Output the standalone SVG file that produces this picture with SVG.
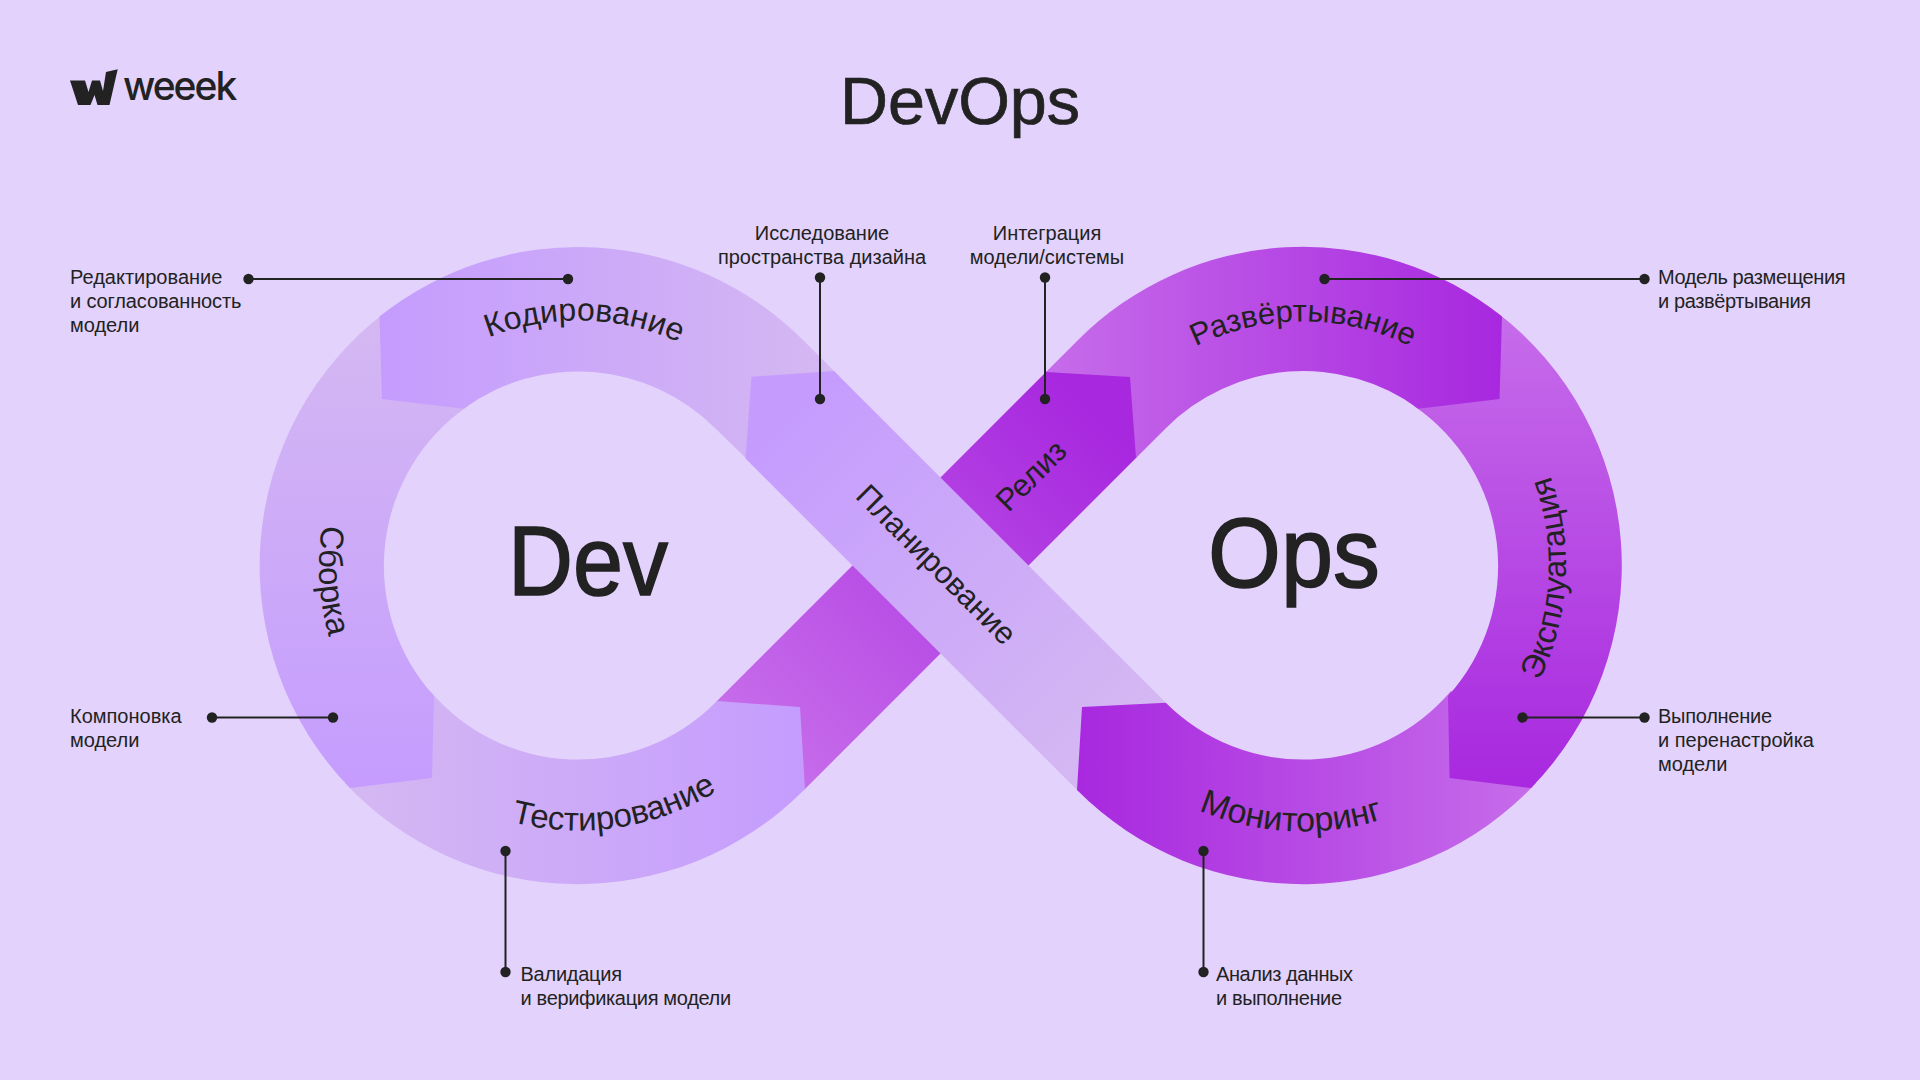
<svg xmlns="http://www.w3.org/2000/svg" width="1920" height="1080" viewBox="0 0 1920 1080">
<style>
text{font-family:"Liberation Sans",Arial,sans-serif;fill:#222}
.lab{font-size:20px}
.mid{text-anchor:middle}
.seg{font-size:32px}
.big{font-size:99px;stroke:#222;stroke-width:1.6px}
.con{stroke:#222;stroke-width:2;fill:none}
.dot{fill:#222}
</style>
<defs>
<linearGradient id="gKod" gradientUnits="userSpaceOnUse" x1="380" y1="0" x2="834" y2="0"><stop offset="0" stop-color="#C59CFE"/><stop offset="1" stop-color="#D4B8F2"/></linearGradient>
<linearGradient id="gSbo" gradientUnits="userSpaceOnUse" x1="0" y1="788" x2="0" y2="317"><stop offset="0" stop-color="#C59CFE"/><stop offset="1" stop-color="#D4B8F2"/></linearGradient>
<linearGradient id="gTes" gradientUnits="userSpaceOnUse" x1="805" y1="0" x2="350" y2="0"><stop offset="0" stop-color="#C59CFE"/><stop offset="1" stop-color="#D4B8F2"/></linearGradient>
<linearGradient id="gPla" gradientUnits="userSpaceOnUse" x1="790" y1="415" x2="1122" y2="747"><stop offset="0" stop-color="#C59CFE"/><stop offset="1" stop-color="#D4B8F2"/></linearGradient>
<linearGradient id="gMon" gradientUnits="userSpaceOnUse" x1="1077" y1="0" x2="1532" y2="0"><stop offset="0" stop-color="#A828DF"/><stop offset="1" stop-color="#C66CEA"/></linearGradient>
<linearGradient id="gExp" gradientUnits="userSpaceOnUse" x1="0" y1="788" x2="0" y2="317"><stop offset="0" stop-color="#A828DF"/><stop offset="1" stop-color="#C66CEA"/></linearGradient>
<linearGradient id="gRaz" gradientUnits="userSpaceOnUse" x1="1500" y1="0" x2="1046" y2="0"><stop offset="0" stop-color="#A828DF"/><stop offset="1" stop-color="#C66CEA"/></linearGradient>
<linearGradient id="gRel" gradientUnits="userSpaceOnUse" x1="1090" y1="415" x2="760" y2="747"><stop offset="0" stop-color="#A828DF"/><stop offset="1" stop-color="#C66CEA"/></linearGradient>
<path id="aKod" d="M369.1 437.5A245 245 0 0 1 793.3 448.6"/>
<path id="aRaz" d="M1091.7 443.5A244 244 0 0 1 1514.3 443.5"/>
<path id="aSbo" d="M399.7 377.6A259 259 0 0 0 424 773.7"/>
<path id="aTes" d="M385.8 747.9A265 265 0 0 0 815.2 683.7"/>
<path id="aMon" d="M1078 707.3A266 266 0 0 0 1513.2 728.5"/>
<path id="aExp" d="M1442.4 788.5A263 263 0 0 0 1464.9 358.3"/>
</defs>
<rect width="1920" height="1080" fill="#E3D2FC"/>
<g id="band-release"><polygon points="1047,371 1131,376 1137,457 804,790 716,702" fill="url(#gRel)"/></g>
<g id="band-testing"><path d="M717 701L800 707L805 789L803.2 790.7A318.5 318.5 0 0 1 345 783L430 691A194 194 0 0 0 715.2 702.7Z" fill="url(#gTes)"/></g>
<g id="band-build"><path d="M350 788A318.5 318.5 0 0 1 385 312.5L468 406A194 194 0 0 0 434 696L432 778Z" fill="url(#gSbo)"/></g>
<g id="band-coding"><path d="M379.5 316.5A318.5 318.5 0 0 1 803.2 340.3L839 376L751 463L715.2 428.3A194 194 0 0 0 463.7 408.7L382 399Z" fill="url(#gKod)"/></g>
<g id="band-planning"><path d="M834 371L751.4 376.7L745.5 458.5L1077.8 790.7L1165.8 702.7Z" fill="url(#gPla)"/></g>
<g id="band-monitoring"><path d="M1165.8 702.7L1082 707L1077 790A318.5 318.5 0 0 0 1536 783L1451 691A194 194 0 0 1 1165.8 702.7Z" fill="url(#gMon)"/></g>
<g id="band-operate"><path d="M1531 788A318.5 318.5 0 0 0 1497 312.5L1414 406A194 194 0 0 1 1448 696L1449.6 778Z" fill="url(#gExp)"/></g>
<g id="band-deploy"><path d="M1046 372L1077.8 340.3A318.5 318.5 0 0 1 1502 316.5L1499.5 399L1418.3 408.7A194 194 0 0 0 1165.8 428.3L1136 458L1130 377Z" fill="url(#gRaz)"/></g>

<g id="connectors">
<path class="con" d="M248.5 279H568M820 277.5V399M1045 277.5V399M1324.5 279H1644.5M212 717.5H333M505.5 851V972M1203.5 851V972M1522.5 717.5H1644.5"/>
<g class="dot">
<circle cx="248.5" cy="279" r="5.2"/><circle cx="568" cy="279" r="5.2"/>
<circle cx="820" cy="277.5" r="5.2"/><circle cx="820" cy="399" r="5.2"/>
<circle cx="1045" cy="277.5" r="5.2"/><circle cx="1045" cy="399" r="5.2"/>
<circle cx="1324.5" cy="279" r="5.2"/><circle cx="1644.5" cy="279" r="5.2"/>
<circle cx="212" cy="717.5" r="5.2"/><circle cx="333" cy="717.5" r="5.2"/>
<circle cx="505.5" cy="851" r="5.2"/><circle cx="505.5" cy="972" r="5.2"/>
<circle cx="1203.5" cy="851" r="5.2"/><circle cx="1203.5" cy="972" r="5.2"/>
<circle cx="1522.5" cy="717.5" r="5.2"/><circle cx="1644.5" cy="717.5" r="5.2"/>
</g>
</g>

<g id="logo">
<path d="M70 80.5H85L88.5 92L92 80.5H100L103 91L106 72L117.7 69.3L109.5 105H97.5L94.5 95L90.5 105H78Z" fill="#222"/>
<text x="123" y="100" style="font-family:Inter,'Liberation Sans',sans-serif;font-weight:500;font-size:39px;letter-spacing:-2px">weeek</text>
</g>
<text id="title" x="960" y="124" class="mid" font-size="66.5" stroke="#222" stroke-width="0.7">DevOps</text>
<text id="dev" x="588" y="595" class="big mid" textLength="160" lengthAdjust="spacingAndGlyphs">Dev</text>
<text id="ops" x="1294" y="587" class="big mid" textLength="172" lengthAdjust="spacingAndGlyphs">Ops</text>

<g id="node-coding"><text class="seg mid"><textPath href="#aKod" startOffset="50%">Кодирование</textPath></text></g>
<g id="node-deploy"><text class="seg mid" style="font-size:31px"><textPath href="#aRaz" startOffset="50%">Развёртывание</textPath></text></g>
<g id="node-build"><text class="seg mid" style="font-size:33px"><textPath href="#aSbo" startOffset="50%">Сборка</textPath></text></g>
<g id="node-test"><text class="seg mid" style="font-size:33px"><textPath href="#aTes" startOffset="50%">Тестирование</textPath></text></g>
<g id="node-monitor"><text class="seg mid" style="font-size:34px"><textPath href="#aMon" startOffset="50%">Мониторинг</textPath></text></g>
<g id="node-operate"><text class="seg mid" style="font-size:32.5px"><textPath href="#aExp" startOffset="50%">Эксплуатация</textPath></text></g>
<g id="node-release"><text class="seg mid" style="font-size:31px" transform="translate(1038.5 483) rotate(-45)">Релиз</text></g>
<g id="node-planning"><text class="seg mid" style="font-size:31px" transform="translate(929 572) rotate(45)">Планирование</text></g>

<g id="labels">
<text class="lab" x="70" y="284">Редактирование</text>
<text class="lab" x="70" y="308" textLength="171.4">и согласованность</text>
<text class="lab" x="70" y="332">модели</text>
<text class="lab mid" x="822" y="240">Исследование</text>
<text class="lab mid" x="822" y="264">пространства дизайна</text>
<text class="lab mid" x="1047" y="240">Интеграция</text>
<text class="lab mid" x="1047" y="264">модели/системы</text>
<text class="lab" x="1658" y="284" textLength="187.5">Модель размещения</text>
<text class="lab" x="1658" y="308" textLength="153">и развёртывания</text>
<text class="lab" x="70" y="723">Компоновка</text>
<text class="lab" x="70" y="747">модели</text>
<text class="lab" x="1658" y="723" textLength="114">Выполнение</text>
<text class="lab" x="1658" y="747">и перенастройка</text>
<text class="lab" x="1658" y="771">модели</text>
<text class="lab" x="520.5" y="981" textLength="101.6">Валидация</text>
<text class="lab" x="520.5" y="1005" textLength="210.6">и верификация модели</text>
<text class="lab" x="1216" y="981" textLength="137">Анализ данных</text>
<text class="lab" x="1216" y="1005" textLength="126">и выполнение</text>
</g>
</svg>
